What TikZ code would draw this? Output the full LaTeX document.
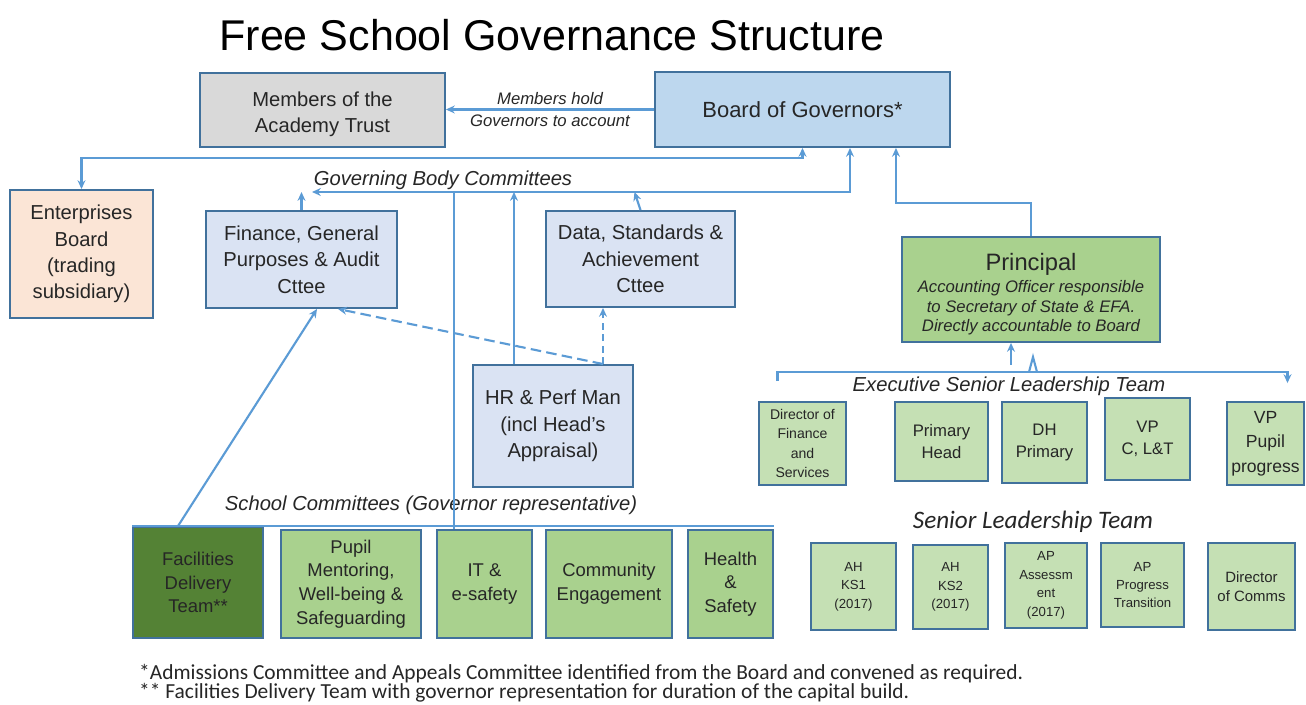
\documentclass[tikz,border=0pt]{standalone}
\usepackage{fontspec}
\setmainfont{Liberation Sans}
\newfontfamily\calib{Carlito}
\usetikzlibrary{arrows.meta}
\definecolor{bordblue}{HTML}{41719C}
\definecolor{linkblue}{HTML}{5B9BD5}
\definecolor{grayf}{HTML}{D9D9D9}
\definecolor{boardf}{HTML}{BDD7EE}
\definecolor{comf}{HTML}{DAE3F3}
\definecolor{peach}{HTML}{FBE5D6}
\definecolor{greenf}{HTML}{A9D18E}
\definecolor{lgreenf}{HTML}{C5E0B4}
\definecolor{dgreenf}{HTML}{548235}
\definecolor{txt}{HTML}{262626}
\newcommand\fs[2]{\fontsize{#1}{#2}\selectfont}

\begin{document}
\begin{tikzpicture}[x=0.02cm,y=-0.02cm,>={Stealth[length=5pt,width=4.5pt]},
  box/.style={draw=bordblue, fill=#1, line width=1.1pt, inner sep=0pt, align=center, text=txt, font={\fs{11.5}{15}}},
  box/.default=comf,
  scbox/.style={box=#1, font={\fs{10.5}{13.5}}},
  scbox/.default=greenf,
  eslbox/.style={box=lgreenf, font={\fs{9.5}{12.5}}},
  sltbox/.style={box=lgreenf, font={\fs{7.5}{10.5}}},
  link/.style={draw=linkblue, line width=1.2pt},
  lbl/.style={text=txt, font={\fs{11.5}{14}\itshape}}]
\useasboundingbox[fill=white] (0,0) rectangle (1306,705);

\node[font={\fs{24.5}{28}}] (title) at (552,35) {Free School Governance Structure};

\node[box=grayf, minimum width=4.9cm, minimum height=1.48cm] (members) at (322.5,110) {\rule{0pt}{13pt}Members of the\\Academy Trust};
\node[box=boardf, minimum width=5.9cm, minimum height=1.5cm, font={\fs{12.5}{15}}] (board) at (802.5,109.5) {Board of Governors*};
\node[box=peach, minimum width=2.86cm, minimum height=2.56cm] (enterprises) at (81.5,254) {Enterprises\\Board\\(trading\\subsidiary)};
\node[box, minimum width=3.82cm, minimum height=1.94cm] (finance) at (301.5,259.5) {Finance, General\\Purposes \& Audit\\Cttee};
\node[box, minimum width=3.78cm, minimum height=1.92cm] (data) at (640.5,259) {Data, Standards \&\\Achievement\\Cttee};
\node[box, minimum width=3.2cm, minimum height=2.44cm] (hr) at (553,426) {HR \& Perf Man\\(incl Head's\\Appraisal)};
\node[box=greenf, minimum width=5.16cm, minimum height=2.1cm, font={\fs{9.5}{11.2}\itshape}] (principal) at (1031,289.5)
  {{\upshape\fs{13.5}{16}\rule{0pt}{15.5pt}Principal}\\[1pt]Accounting Officer responsible\\to Secretary of State \& EFA.\\Directly accountable to Board};

\node[lbl] (gbclbl) at (443,180) {Governing Body Committees};
\node[lbl] (sclbl) at (431,505) {School Committees (Governor representative)};
\node[lbl] (esltlbl) at (1009,386) {Executive Senior Leadership Team};
\node[text=txt, font={\calib\fs{14.3}{16}\itshape}] (sltlbl) at (1033,522) {Senior Leadership Team};

\node[scbox=dgreenf, minimum width=2.6cm, minimum height=2.22cm] (facilities) at (198,582.5) {Facilities\\Delivery\\Team**};
\node[scbox, minimum width=2.8cm, minimum height=2.16cm] (pupil) at (351,584) {Pupil\\Mentoring,\\Well-being \&\\Safeguarding};
\node[scbox, minimum width=1.9cm, minimum height=2.16cm] (itsafety) at (484.5,584) {IT \&\\e-safety};
\node[scbox, minimum width=2.52cm, minimum height=2.16cm] (community) at (609,584) {Community\\Engagement};
\node[scbox, minimum width=1.7cm, minimum height=2.16cm] (health) at (730.5,584) {Health\\\&\\Safety};

\node[eslbox, minimum width=1.74cm, minimum height=1.66cm, font={\fs{8}{11}}] (dirfin) at (802.5,443.5) {Director of\\Finance\\and\\Services};
\node[eslbox, minimum width=1.86cm, minimum height=1.58cm] (primhead) at (941.5,441.5) {Primary\\Head};
\node[eslbox, minimum width=1.7cm, minimum height=1.62cm] (dhprim) at (1044.5,442.5) {DH\\Primary};
\node[eslbox, minimum width=1.7cm, minimum height=1.64cm] (vpclt) at (1147.5,439) {VP\\C, L\&T};
\node[eslbox, minimum width=1.54cm, minimum height=1.66cm, font={\fs{10}{14}}] (vppupil) at (1265.5,443.5) {VP\\Pupil\\progress};

\node[sltbox, minimum width=1.7cm, minimum height=1.74cm] (ahks1) at (853.5,586.5) {AH\\KS1\\(2017)};
\node[sltbox, minimum width=1.5cm, minimum height=1.68cm] (ahks2) at (950.5,587) {AH\\KS2\\(2017)};
\node[sltbox, minimum width=1.64cm, minimum height=1.7cm] (apassess) at (1046,585.5) {AP\\Assessm\\ent\\(2017)};
\node[sltbox, minimum width=1.66cm, minimum height=1.68cm] (approg) at (1142.5,585) {AP\\Progress\\Transition};
\node[sltbox, minimum width=1.74cm, minimum height=1.74cm, font={\fs{8.5}{11}}] (dircomms) at (1251.5,586.5) {Director\\of Comms};

\node[anchor=west, text=txt, font={\calib\fs{12.2}{14}}] (note1) at (133,674) {*Admissions Committee and Appeals Committee identified from the Board and convened as required.};
\node[anchor=west, text=txt, font={\calib\fs{12.2}{14}}] (note2) at (133,693) {** Facilities Delivery Team with governor representation for duration of the capital build.};

\coordinate (gbl) at (312,192);
\coordinate (gbr) at (850,192);
\coordinate (eslt) at (1033,372);

\draw[link,->] (board.west) -- (members.east |- board.west)
  node[midway,above=-1pt,lbl,font={\fs{9.5}{11}\itshape}] (hold1) {Members hold}
  node[midway,below=-1pt,lbl,font={\fs{9.5}{11}\itshape}] (hold2) {Governors to account};
\draw[link,<->] (board.south) -- ++(0,10) -| (enterprises.north);
\draw[link,<->] (gbl) -- (gbr) -- (gbr |- board.south);
\draw[link,->] (finance.north) -- (finance.north |- gbl);
\draw[link,->] (data.north) -- ([xshift=-0.12cm]data.north |- gbl);
\draw[link,->] ([xshift=-0.78cm]hr.north) -- ([xshift=-0.78cm]hr.north |- gbl);
\draw[link] ([xshift=0.36cm]itsafety.north west) -- ([xshift=0.36cm]itsafety.north west |- gbl);
\draw[link] (facilities.north west) -- (facilities.north west -| health.north east);
\draw[link,->] ([xshift=-0.4cm]facilities.north) -- ([xshift=0.31cm]finance.south);
\draw[link,->,dash pattern=on 6pt off 3pt] ([xshift=1cm]hr.north) -- ([xshift=0.73cm]finance.south);
\draw[link,->,dash pattern=on 4pt off 2.5pt] ([xshift=1cm]hr.north) -- ([xshift=1cm]hr.north |- data.south);
\draw[link,->] (principal.north) -- ++(0,-33) -| ([xshift=1.87cm]board.south);
\draw[link,->] ([xshift=-0.5cm,yshift=0.4cm]dirfin.north) |- (eslt) -| ([xshift=0.44cm,yshift=0.36cm]vppupil.north);
\draw[link] ([xshift=-0.08cm]eslt) -- ([yshift=0.3cm]eslt) -- ([xshift=0.08cm]eslt);
\draw[link,->] ([xshift=-0.44cm,yshift=0.14cm]eslt) -- ([xshift=-0.44cm]eslt |- principal.south);
\end{tikzpicture}
\end{document}
